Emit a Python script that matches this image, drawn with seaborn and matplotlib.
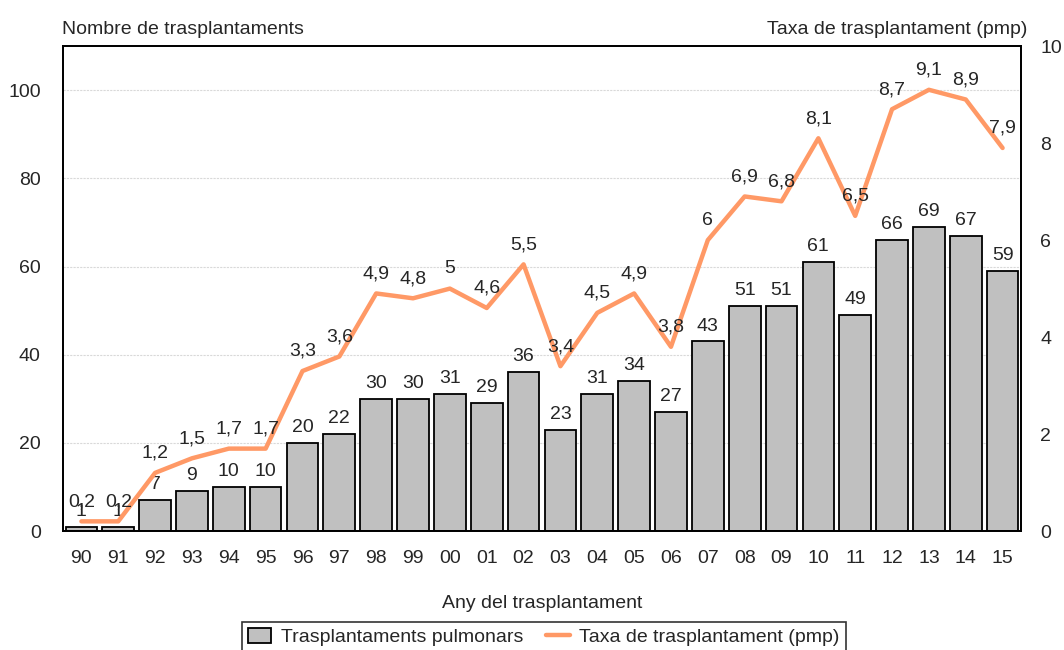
import numpy as np
import pandas as pd
import matplotlib
matplotlib.use("Agg")
import matplotlib.pyplot as plt
import seaborn as sns
from matplotlib.patches import Patch
from matplotlib.lines import Line2D

years = ["90", "91", "92", "93", "94", "95", "96", "97", "98", "99", "00", "01", "02",
         "03", "04", "05", "06", "07", "08", "09", "10", "11", "12", "13", "14", "15"]
transplants = [1, 1, 7, 9, 10, 10, 20, 22, 30, 30, 31, 29, 36,
               23, 31, 34, 27, 43, 51, 51, 61, 49, 66, 69, 67, 59]
rate = [0.2, 0.2, 1.2, 1.5, 1.7, 1.7, 3.3, 3.6, 4.9, 4.8, 5.0, 4.6, 5.5,
        3.4, 4.5, 4.9, 3.8, 6.0, 6.9, 6.8, 8.1, 6.5, 8.7, 9.1, 8.9, 7.9]

sns.set_theme(style="white")
plt.rcParams['font.family'] = ['Liberation Sans', 'DejaVu Sans']

bar_color = "#C0C0C0"
line_color = "#FF9966"
fs = 14

df = pd.DataFrame({"year": years, "n": transplants, "rate": rate})

fig = plt.figure(figsize=(10.64, 6.5), dpi=100)
ax = fig.add_axes([0.0592, 0.183, 0.9004, 0.746])

sns.barplot(data=df, x="year", y="n", color=bar_color, edgecolor="black",
            linewidth=1.3, width=0.86, saturation=1, ax=ax, zorder=2)
ax.set_ylim(0, 110)
ax.set_yticks([0, 20, 40, 60, 80, 100])
ax.set_xlim(-0.5, len(years) - 0.5)
ax.yaxis.grid(True, color="#D9D9D9", linestyle=(0, (2, 1)), linewidth=0.8, zorder=0)
ax.set_axisbelow(True)
ax.tick_params(axis="both", length=0, labelsize=fs)
ax.tick_params(axis="y", pad=16)
ax.tick_params(axis="x", pad=14)
ax.set_ylabel("")
ax.set_xlabel("Any del trasplantament", fontsize=fs, labelpad=20)
for s in ax.spines.values():
    s.set_color("black")
    s.set_linewidth(1.3)

for i, v in enumerate(transplants):
    ax.annotate(str(v), (i, v), xytext=(0, 5), textcoords="offset points",
                ha="center", va="bottom", fontsize=fs)

ax2 = ax.twinx()
sns.lineplot(x=np.arange(len(years)), y=rate, color=line_color, linewidth=3.2,
             ax=ax2, zorder=3)
ax2.set_ylim(0, 10)
ax2.set_yticks([0, 2, 4, 6, 8, 10])
ax2.tick_params(axis="y", length=0, labelsize=fs, pad=14)
for s in ax2.spines.values():
    s.set_color("black")
    s.set_linewidth(1.3)

def fmt(v):
    if abs(v - round(v)) < 1e-9:
        return str(int(round(v)))
    return f"{v:.1f}".replace(".", ",")

for i, v in enumerate(rate):
    ax2.annotate(fmt(v), (i, v), xytext=(0, 8), textcoords="offset points",
                 ha="center", va="bottom", fontsize=fs)

fig.text(0.0583, 0.955, "Nombre de trasplantaments", ha="left", va="center", fontsize=fs)
fig.text(0.966, 0.955, "Taxa de trasplantament (pmp)", ha="right", va="center", fontsize=fs)

handles = [Patch(facecolor=bar_color, edgecolor="black", linewidth=1.3),
           Line2D([0], [0], color=line_color, linewidth=3.2)]
leg = fig.legend(handles, ["Trasplantaments pulmonars", "Taxa de trasplantament (pmp)"],
                 loc="upper center", bbox_to_anchor=(0.511, 0.052), ncol=2,
                 frameon=True, fancybox=False, fontsize=fs, handlelength=1.2,
                 handleheight=0.8, columnspacing=1.2, handletextpad=0.5,
                 borderpad=0.3, borderaxespad=0.3)
leg.get_frame().set_edgecolor("black")
leg.get_frame().set_linewidth(1.2)

fig.savefig("out.png", dpi=100)
